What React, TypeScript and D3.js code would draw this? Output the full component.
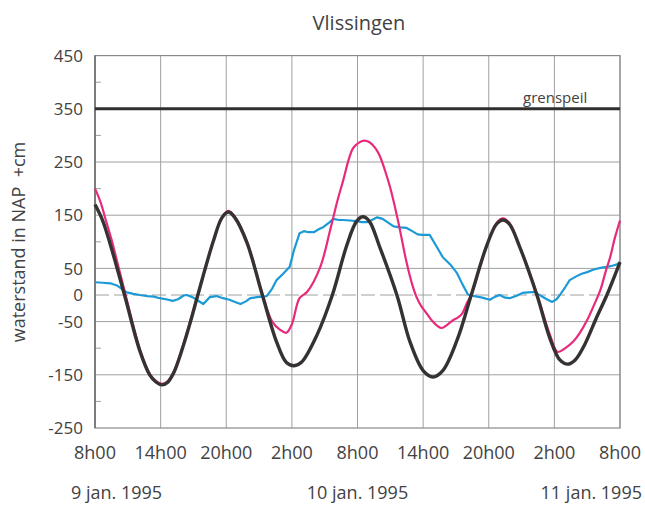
import React from "react";
import * as d3 from "d3";

const yTickValues = [450, 350, 250, 150, 50, 0, -50, -150, -250];
const yMinorTicks = [400, 300, 200, 100, -100, -200];
const yGridValues = [350, 250, 150, 50, -50, -150];
const xTickHours = [0, 6, 12, 18, 24, 30, 36, 42, 48];
const xTickLabels = ["8h00", "14h00", "20h00", "2h00", "8h00", "14h00", "20h00", "2h00", "8h00"];
const dateLabels = ["9 jan. 1995", "10 jan. 1995", "11 jan. 1995"];
const dateHours = [0, 24, 48];
const grenspeil = 350;

// predicted (black)
const blackT = [0, 0.7, 1.4, 2.7, 4.1, 5.0, 5.6, 6.1, 6.6, 7.2, 8.0, 8.8, 9.4, 10.8, 11.6, 12.2, 12.8, 13.9, 15.3, 16.6, 17.5, 18.2, 18.9, 20.3, 21.7, 23.0, 23.9, 24.5, 25.1, 26.0, 27.6, 28.8, 30.0, 30.9, 31.8, 33.1, 34.4, 35.8, 36.7, 37.3, 37.9, 38.8, 40.4, 41.6, 42.5, 43.2, 43.9, 44.8, 45.8, 46.8, 48];
const blackV = [170, 140, 95, 0, -105, -150, -164, -169, -165, -146, -100, -45, 0, 100, 145, 156, 145, 98, 0, -88, -127, -133, -126, -75, 0, 92, 138, 147, 138, 92, 0, -88, -142, -154, -142, -85, 0, 92, 133, 141, 133, 92, 0, -82, -122, -130, -122, -92, -45, 0, 62];

// observed (pink)
const pinkT = [0, 0.5, 1.0, 1.5, 2.0, 2.7, 4.1, 5.0, 5.6, 6.1, 6.6, 7.2, 8.0, 8.8, 9.4, 10.8, 11.6, 12.2, 12.8, 13.9, 15.3, 16.2, 16.9, 17.5, 18.0, 18.7, 19.4, 20.6, 21.5, 22.2, 22.7, 23.2, 23.6, 24.1, 24.6, 25.1, 25.6, 26.0, 26.5, 27.0, 27.7, 28.5, 29.0, 29.4, 29.8, 30.3, 30.8, 31.3, 31.7, 32.2, 32.7, 33.2, 33.6, 34.0, 34.4, 35.8, 36.7, 37.3, 37.9, 38.8, 40.4, 41.6, 42.3, 43.0, 43.7, 44.3, 45.0, 45.6, 46.2, 46.7, 47.1, 47.5, 48];
const pinkV = [200, 175, 140, 105, 65, 8, -102, -148, -162, -167, -163, -144, -98, -43, 0, 100, 146, 158, 147, 100, 2, -50, -65, -71, -55, -6, 6, 53, 122, 180, 216, 255, 276, 286, 290, 287, 277, 263, 235, 201, 140, 60, 20, -4, -20, -34, -48, -58, -62, -56, -48, -42, -34, -15, 0, 92, 135, 144, 135, 92, 2, -75, -107, -100, -88, -72, -47, -20, 9, 45, 71, 105, 140];

// surge (blue)
const blueT = [0, 0.7, 1.4, 2.0, 2.9, 3.5, 4.1, 4.8, 5.4, 5.9, 6.5, 7.1, 7.6, 8.1, 8.4, 8.9, 9.3, 9.9, 10.5, 11.1, 11.7, 12.3, 12.8, 13.3, 13.8, 14.2, 14.8, 15.7, 16.2, 16.6, 17.2, 17.8, 18.2, 18.7, 19.1, 19.5, 20.0, 20.5, 20.9, 21.4, 21.8, 22.3, 22.7, 23.3, 23.9, 24.4, 24.9, 25.4, 25.8, 26.3, 26.8, 27.3, 27.9, 28.5, 29.0, 29.5, 29.9, 30.6, 31.2, 31.8, 32.5, 33.1, 33.6, 34.1, 34.7, 35.4, 36.1, 36.6, 37.0, 37.5, 37.9, 38.5, 39.1, 39.6, 40.2, 40.8, 41.3, 41.8, 42.2, 42.5, 43.0, 43.4, 44.0, 44.5, 45.0, 45.6, 46.2, 46.8, 47.3, 47.8, 48];
const blueV = [24, 23, 22, 18, 5, 2, 0, -2, -3, -6, -8, -11, -8, -1, 0, -4, -9, -17, -4, -2, -6, -9, -13, -17, -12, -6, -4, -2, 12, 28, 40, 53, 85, 116, 120, 118, 118, 124, 128, 136, 143, 141, 141, 140, 139, 137, 137, 142, 146, 143, 136, 129, 127, 126, 120, 114, 113, 113, 92, 71, 57, 41, 20, 1, -2, -5, -9, -3, 0, -5, -6, -2, 4, 5, 6, -2, -8, -13, -8, 0, 15, 28, 35, 40, 43, 48, 51, 53, 55, 58, 62];

const W = 645;
const H = 506;
const FONT = "'Open Sans', 'Noto Sans', sans-serif";
const TEXT = "#424242";

export default function App() {
  const x = d3.scaleLinear().domain([0, 48]).range([95, 620]);
  const y = d3.scaleLinear().domain([-250, 450]).range([428, 55.6]);

  const line = (ts: number[], vs: number[], curve: any) =>
    d3
      .line<number>()
      .x((_, i) => x(ts[i]))
      .y((v) => y(v))
      .curve(curve)(vs) as string;

  const [x0, x1] = x.range();
  const [yb, yt] = y.range();

  return (
    <svg width={W} height={H} style={{ position: "absolute", left: 0, top: 0, background: "#fff" }}>
      <text x={359} y={30} textAnchor="middle" fontFamily={FONT} fontSize={20} fill={TEXT}>
        Vlissingen
      </text>
      {/* grid */}
      {yGridValues.map((v) => (
        <line key={"gy" + v} x1={x0} x2={x1} y1={y(v)} y2={y(v)} stroke="#a0a0a0" strokeWidth={1} />
      ))}
      <line x1={x0} x2={x1} y1={y(0)} y2={y(0)} stroke="#a0a0a0" strokeWidth={1} strokeDasharray="14 5" />
      {xTickHours.map((h) => (
        <line key={"gx" + h} x1={x(h)} x2={x(h)} y1={yt} y2={yb} stroke="#a0a0a0" strokeWidth={1} />
      ))}
      {yMinorTicks.map((v) => (
        <line key={"mt" + v} x1={x0} x2={x0 + 6} y1={y(v)} y2={y(v)} stroke="#a0a0a0" strokeWidth={1} />
      ))}
      <rect x={x0} y={yt} width={x1 - x0} height={yb - yt} fill="none" stroke="#8a8a8a" strokeWidth={1.2} />
      <line x1={x0} x2={x0} y1={yt} y2={yb} stroke="#666" strokeWidth={1.3} />
      {/* grenspeil */}
      <line x1={x0} x2={x1} y1={y(grenspeil)} y2={y(grenspeil)} stroke="#2f2f2f" strokeWidth={3} />
      <text x={523} y={103} fontFamily={FONT} fontSize={15} fill={TEXT}>
        grenspeil
      </text>
      {/* series */}
      <path d={line(blueT, blueV, d3.curveLinear)} fill="none" stroke="#1b9ad6" strokeWidth={2.2} strokeLinejoin="round" />
      <path d={line(pinkT, pinkV, d3.curveCatmullRom)} fill="none" stroke="#e8297c" strokeWidth={2.2} strokeLinejoin="round" />
      <path d={line(blackT, blackV, d3.curveCatmullRom)} fill="none" stroke="#363232" strokeWidth={3.4} strokeLinejoin="round" />
      {/* y ticks */}
      {yTickValues.map((v) => (
        <text key={"yl" + v} x={83} y={y(v)} dy="0.36em" textAnchor="end" fontFamily={FONT} fontSize={17} fill={TEXT}>
          {v}
        </text>
      ))}
      <text
        transform={`translate(25,242) rotate(-90)`}
        textAnchor="middle"
        fontFamily={FONT}
        fontSize={18}
        fill={TEXT}
      >
        waterstand in NAP{"\u00a0\u00a0"}+cm
      </text>
      {/* x ticks */}
      {xTickHours.map((h, i) => (
        <text key={"xl" + i} x={x(h)} y={459} textAnchor="middle" fontFamily={FONT} fontSize={18} fill={TEXT}>
          {xTickLabels[i]}
        </text>
      ))}
      {dateHours.map((h, i) => (
        <text
          key={"dl" + i}
          x={i === 0 ? 71 : i === 2 ? 642 : x(h)}
          y={499}
          textAnchor={i === 0 ? "start" : i === 2 ? "end" : "middle"}
          fontFamily={FONT}
          fontSize={18}
          fill={TEXT}
        >
          {dateLabels[i]}
        </text>
      ))}
    </svg>
  );
}
